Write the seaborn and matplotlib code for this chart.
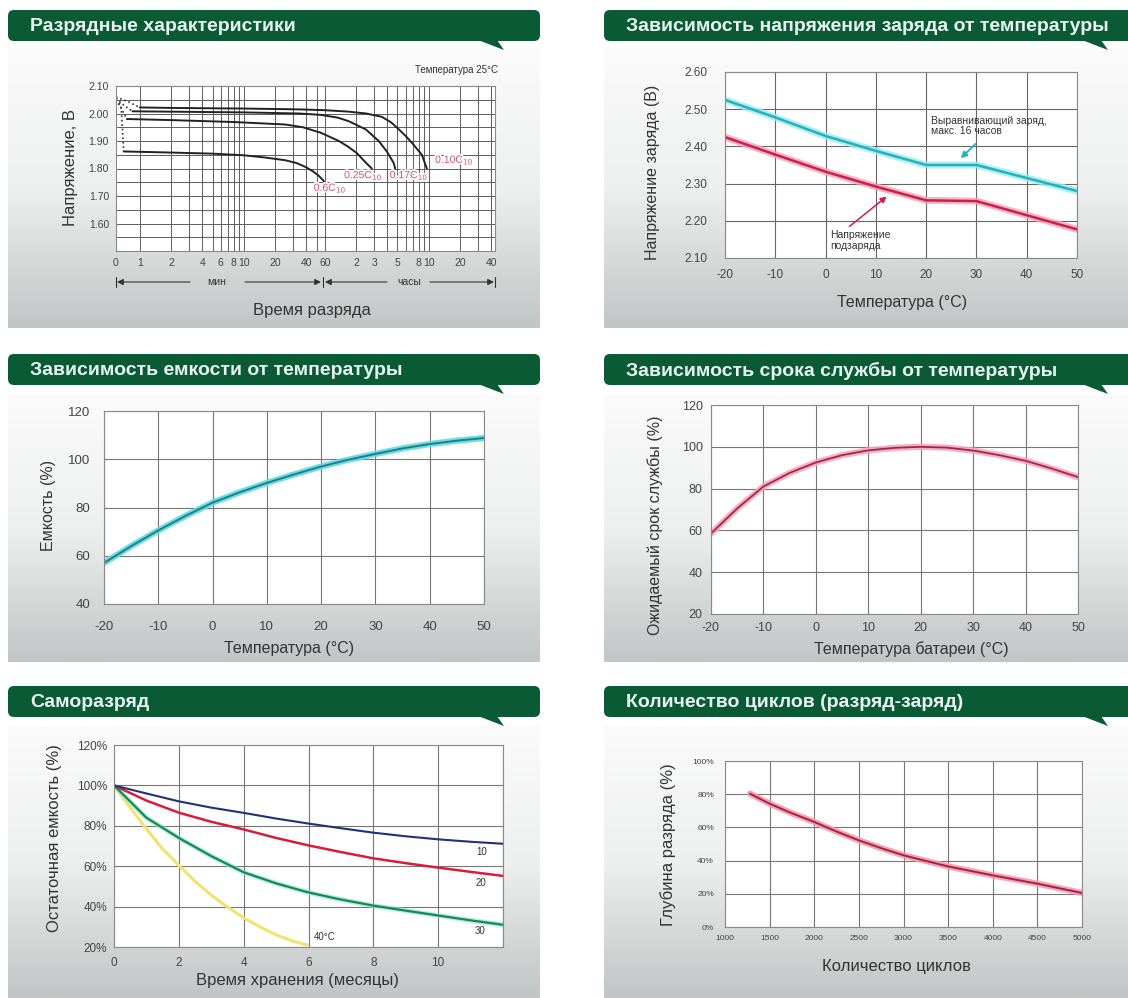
import numpy as np
import matplotlib
matplotlib.use("Agg")
import matplotlib.pyplot as plt
import matplotlib.patheffects as pe
from matplotlib.patches import FancyBboxPatch, Polygon
from matplotlib.colors import LinearSegmentedColormap
from matplotlib.ticker import FixedLocator, NullFormatter
import seaborn as sns

sns.set_style("white")
plt.rcParams['font.family'] = ['Liberation Sans', 'DejaVu Sans']
plt.rcParams['axes.unicode_minus'] = False

W, H = 1128, 998

# ---------------- data ----------------
# 1. discharge curves (time in minutes, voltage V)
c010_dot_t = [0.59, 0.75, 1.0]
c010_dot_v = [2.06, 2.045, 2.022]
c010_t = [1.0, 2.3, 10, 34, 60, 100, 150, 212, 260, 310, 360, 412, 470, 515, 575]
c010_v = [2.022, 2.020, 2.018, 2.015, 2.012, 2.007, 2.0, 1.988, 1.968, 1.942, 1.918, 1.894, 1.868, 1.85, 1.80]

c017_dot_t = [0.59, 0.7, 0.85]
c017_dot_v = [2.055, 2.03, 2.008]
c017_t = [0.85, 3, 10, 34, 55, 80, 102, 149, 198, 237, 276, 285]
c017_v = [2.008, 2.006, 2.004, 2.0, 1.995, 1.985, 1.972, 1.942, 1.90, 1.862, 1.82, 1.80]

c025_dot_t = [0.59, 0.66, 0.75]
c025_dot_v = [2.05, 2.02, 1.98]
c025_t = [0.75, 2, 8, 25, 37, 55, 82, 100, 122, 150, 170]
c025_v = [1.98, 1.976, 1.969, 1.96, 1.95, 1.93, 1.90, 1.88, 1.856, 1.82, 1.80]

c06_dot_t = [0.59, 0.66, 0.7]
c06_dot_v = [2.05, 2.03, 1.862]
c06_t = [0.7, 2, 5, 10, 16, 25, 32, 39, 46, 52, 57, 61]
c06_v = [1.862, 1.858, 1.854, 1.848, 1.84, 1.83, 1.82, 1.806, 1.79, 1.775, 1.76, 1.745]

dis_ticks = [0.59, 1, 2, 4, 6, 8, 10, 20, 40, 60, 120, 180, 300, 480, 600, 1200, 2400]
dis_tick_labels = ['0', '1', '2', '4', '6', '8', '10', '20', '40', '60',
                   '2', '3', '5', '8', '10', '20', '40']
dis_grid = [1, 2, 3, 4, 5, 6, 7, 8, 9, 10, 20, 30, 40, 50, 60,
            120, 180, 240, 300, 360, 420, 480, 540, 600, 1200, 1800, 2400]
dis_volt_grid = [1.50, 1.55, 1.60, 1.65, 1.70, 1.75, 1.80, 1.85, 1.90, 1.95, 2.00, 2.05, 2.10]
dis_volt_ticks = [1.60, 1.70, 1.80, 1.90, 2.00, 2.10]

# 2. charge voltage vs temperature
chg_temp = [-20, -10, 0, 10, 20, 30, 40, 50]
chg_equal = [2.525, 2.478, 2.428, 2.388, 2.350, 2.350, 2.315, 2.280]
chg_float = [2.425, 2.378, 2.332, 2.292, 2.255, 2.253, 2.215, 2.177]

# 3. capacity vs temperature, 4. life vs temperature
temp = [-20, -15, -10, -5, 0, 5, 10, 15, 20, 25, 30, 35, 40, 45, 50]
capacity = [57, 64, 70.5, 76.5, 82, 86.3, 90.2, 93.7, 97, 99.8, 102.2, 104.5, 106.3, 107.7, 108.8]
life = [58.5, 70.5, 81, 87.5, 92.5, 96, 98.3, 99.5, 100, 99.6, 98.2, 96, 93.3, 89.6, 85.5]

# 5. self discharge
months = [0, 1, 2, 3, 4, 5, 6, 7, 8, 9, 10, 11, 12]
sd_10 = [100, 96, 92.1, 89, 86.4, 83.6, 81.1, 78.8, 76.6, 74.8, 73.3, 72.1, 71.1]
sd_20 = [100, 92.5, 86.5, 82, 78.2, 74, 70.3, 67, 63.9, 61.5, 59.3, 57.2, 55.2]
sd_30 = [100, 84, 74, 65, 57, 51.5, 47, 43.5, 40.5, 38, 35.6, 33.2, 31]
months_40 = [0, 0.5, 1, 1.5, 2, 2.5, 3, 3.5, 4, 4.5, 5, 5.5, 5.96]
sd_40 = [100, 89, 78.5, 68.5, 60.5, 52.5, 45.7, 39.8, 34.4, 30, 26, 23, 21]

# 6. cycle life
cycles = [1280, 1500, 1750, 2000, 2250, 2500, 2750, 3000, 3250, 3500, 3750, 4000, 4250, 4500, 4750, 5000]
dod = [80.3, 74.3, 68.5, 63.3, 57.5, 52.2, 47.5, 43.2, 39.8, 36.5, 33.8, 31.1, 28.6, 26.1, 23.3, 20.5]

titles = ['Разрядные характеристики',
          'Зависимость напряжения заряда от температуры',
          'Зависимость емкости от температуры',
          'Зависимость срока службы от температуры',
          'Саморазряд',
          'Количество циклов (разряд-заряд)']

# ---------------- figure ----------------
fig = plt.figure(figsize=(W / 100, H / 100), dpi=100)
fig.patch.set_facecolor('white')

bg = fig.add_axes([0, 0, 1, 1], zorder=-5)
bg.set_xlim(0, W)
bg.set_ylim(H, 0)
bg.axis('off')

grad_cmap = LinearSegmentedColormap.from_list('g', ['#fbfbfb', '#eeefef', '#c2c5c5'])
grad = np.linspace(0, 1, 256).reshape(-1, 1)

GREEN = '#0b5a36'
panels = [  # bg box, header box, tail x, title x
    ((8, 48, 540, 328), (8, 10, 540, 41), 478, 30),
    ((604, 48, 1128, 328), (604, 10, 1145, 41), 1082, 626),
    ((8, 395, 540, 662), (8, 354, 540, 385), 478, 30),
    ((604, 395, 1128, 662), (604, 354, 1145, 385), 1082, 626),
    ((8, 725, 540, 998), (8, 686, 540, 717), 478, 30),
    ((604, 725, 1128, 998), (604, 686, 1145, 717), 1082, 626),
]
for (bx, hb, tx, txt_x), title in zip(panels, titles):
    bg.imshow(grad, extent=(bx[0], bx[2], bx[3], bx[1]), cmap=grad_cmap,
              aspect='auto', origin='upper', zorder=0)
    bg.add_patch(FancyBboxPatch((hb[0], hb[1]), hb[2] - hb[0], hb[3] - hb[1],
                                boxstyle='round,pad=0,rounding_size=6',
                                fc=GREEN, ec='none', zorder=2))
    bg.add_patch(Polygon([(tx, hb[3] - 1), (tx + 19, hb[3] - 1), (tx + 26, hb[3] + 9)],
                         closed=True, fc=GREEN, ec='none', zorder=2))
    bg.text(txt_x, (hb[1] + hb[3]) / 2 + 1, title, color='#e9f6ee', fontsize=14,
            fontweight='bold', va='center', ha='left', zorder=3)
bg.set_xlim(0, W)
bg.set_ylim(H, 0)


def rect(b):
    x0, y0, x1, y1 = b
    return [x0 / W, 1 - y1 / H, (x1 - x0) / W, (y1 - y0) / H]


def style(ax, b, xl, xl_pos, yl, yl_pos, fs=11.5, grid_c='#777777'):
    x0, y0, x1, y1 = b
    ax.set_facecolor('white')
    ax.grid(True, color=grid_c, lw=0.8)
    ax.set_axisbelow(True)
    for s in ax.spines.values():
        s.set_color('#8a8a8a')
        s.set_linewidth(0.8)
    ax.set_xlabel(xl, fontsize=fs, color='#333333')
    ax.set_ylabel(yl, fontsize=fs, color='#333333')
    ax.xaxis.set_label_coords((xl_pos[0] - x0) / (x1 - x0), (y1 - xl_pos[1]) / (y1 - y0))
    ax.yaxis.set_label_coords((yl_pos[0] - x0) / (x1 - x0), (y1 - yl_pos[1]) / (y1 - y0))
    ax.xaxis.label.set_va('center')
    ax.yaxis.label.set_va('center')


def glow(c, w=4.5, a=0.55):
    return [pe.Stroke(linewidth=w, foreground=c, alpha=a), pe.Normal()]


# ---- panel 1: discharge ----
b1 = (116, 86, 495, 251)
ax1 = fig.add_axes(rect(b1))
for t, v in [(c010_dot_t, c010_dot_v), (c017_dot_t, c017_dot_v),
             (c025_dot_t, c025_dot_v), (c06_dot_t, c06_dot_v)]:
    sns.lineplot(x=t, y=v, ax=ax1, color='#333333', lw=1.2, linestyle=':', estimator=None)
for t, v in [(c010_t, c010_v), (c017_t, c017_v), (c025_t, c025_v), (c06_t, c06_v)]:
    sns.lineplot(x=t, y=v, ax=ax1, color='#222222', lw=1.4, estimator=None)
ax1.set_xscale('log')
ax1.set_xlim(0.59, 2600)
ax1.set_ylim(1.50, 2.10)
ax1.set_xticks(dis_ticks)
ax1.set_xticklabels(dis_tick_labels)
ax1.xaxis.set_minor_locator(FixedLocator(dis_grid))
ax1.xaxis.set_minor_formatter(NullFormatter())
ax1.set_yticks(dis_volt_ticks)
ax1.set_yticklabels([f'{v:.2f}' for v in dis_volt_ticks])
ax1.yaxis.set_minor_locator(FixedLocator(dis_volt_grid))
style(ax1, b1, 'Время разряда', (312, 311), 'Напряжение, В', (70, 168), fs=12)
ax1.grid(True, which='both', color='#5c5c5c', lw=0.7)
ax1.tick_params(which='both', length=0)
ax1.tick_params(labelsize=7.5, colors='#444444', pad=5)
lab_c = '#d9506e'
halo = [pe.withStroke(linewidth=2.5, foreground='white')]
for x, y, s in [(690, 1.832, r'0.10C$_{10}$'), (253, 1.776, r'0.17C$_{10}$'),
                (92, 1.776, r'0.25C$_{10}$'), (47, 1.73, r'0.6C$_{10}$')]:
    ax1.text(x, y, s, color=lab_c, fontsize=7.5, va='center', ha='left', path_effects=halo)
bg.text(498, 70, 'Температура 25°C', fontsize=7, color='#333333', ha='right', va='center')
# мин / часы arrows
ay = 282
arr = dict(arrowstyle='-|>', color='#333333', lw=0.8, mutation_scale=9, shrinkA=0, shrinkB=0)
bg.annotate('', xy=(117, ay), xytext=(190, ay), arrowprops=arr)
bg.annotate('', xy=(321, ay), xytext=(245, ay), arrowprops=arr)
bg.annotate('', xy=(325, ay), xytext=(387, ay), arrowprops=arr)
bg.annotate('', xy=(494, ay), xytext=(430, ay), arrowprops=arr)
for xv in (116, 323, 495):
    bg.plot([xv, xv], [ay - 5, ay + 5], color='#333333', lw=0.8)
bg.text(217, ay, 'мин', fontsize=7.5, color='#333333', ha='center', va='center')
bg.text(409, ay, 'часы', fontsize=7.5, color='#333333', ha='center', va='center')

# ---- panel 2: charge voltage ----
b2 = (725, 72, 1077, 258)
ax2 = fig.add_axes(rect(b2))
sns.lineplot(x=chg_temp, y=chg_equal, ax=ax2, color='#1fb3bd', lw=1.8,
             path_effects=glow('#9ee9ef', 5, 0.8), estimator=None)
sns.lineplot(x=chg_temp, y=chg_float, ax=ax2, color='#cc1d4c', lw=1.8,
             path_effects=glow('#f4a3b5', 5, 0.8), estimator=None)
ax2.set_xlim(-20, 50)
ax2.set_ylim(2.10, 2.60)
ax2.set_xticks(chg_temp)
ax2.set_yticks([2.10, 2.20, 2.30, 2.40, 2.50, 2.60])
ax2.set_yticklabels(['2.10', '2.20', '2.30', '2.40', '2.50', '2.60'])
style(ax2, b2, 'Температура (°C)', (902, 303), 'Напряжение заряда (В)', (652, 172), fs=11.5,
      grid_c='#666666')
ax2.tick_params(length=0, labelsize=8.5, colors='#444444')
ax2.tick_params(axis='y', pad=13)
ax2.tick_params(axis='x', pad=8)
ax2.text(21, 2.455, 'Выравнивающий заряд,\nмакс. 16 часов', fontsize=7.5, color='#333333',
         va='center', ha='left', linespacing=1.1)
ax2.annotate('', xy=(26.5, 2.363), xytext=(30.2, 2.412),
             arrowprops=dict(arrowstyle='-|>', color='#1fb3bd', lw=1.3, mutation_scale=9))
ax2.text(1, 2.146, 'Напряжение\nподзаряда', fontsize=7.5, color='#333333',
         va='center', ha='left', linespacing=1.1)
ax2.annotate('', xy=(12.6, 2.27), xytext=(4.3, 2.18),
             arrowprops=dict(arrowstyle='-|>', color='#cc1d4c', lw=1.1, mutation_scale=9))

# ---- panel 3: capacity ----
b3 = (104, 411, 484, 604)
ax3 = fig.add_axes(rect(b3))
sns.lineplot(x=temp, y=capacity, ax=ax3, color='#1d7f86', lw=1.4,
             path_effects=glow('#5fd9e3', 4.5, 0.9), estimator=None)
ax3.set_xlim(-20, 50)
ax3.set_ylim(40, 120)
ax3.set_xticks([-20, -10, 0, 10, 20, 30, 40, 50])
ax3.set_yticks([40, 60, 80, 100, 120])
style(ax3, b3, 'Температура (°C)', (289, 649), 'Емкость (%)', (48, 505))
ax3.tick_params(length=0, labelsize=9.5, colors='#444444')
ax3.tick_params(axis='y', pad=10)
ax3.tick_params(axis='x', pad=12)

# ---- panel 4: service life ----
b4 = (711, 405, 1078, 614)
ax4 = fig.add_axes(rect(b4))
sns.lineplot(x=temp, y=life, ax=ax4, color='#a3264a', lw=1.3,
             path_effects=glow('#f5a7ba', 4.5, 0.9), estimator=None)
ax4.set_xlim(-20, 50)
ax4.set_ylim(20, 120)
ax4.set_xticks([-20, -10, 0, 10, 20, 30, 40, 50])
ax4.set_yticks([20, 40, 60, 80, 100, 120])
style(ax4, b4, 'Температура батареи (°C)', (911, 649), 'Ожидаемый срок службы (%)', (655, 525))
ax4.tick_params(length=0, labelsize=9, colors='#444444')
ax4.tick_params(axis='y', pad=6)
ax4.tick_params(axis='x', pad=6)

# ---- panel 5: self discharge ----
b5 = (114, 745, 503, 947)
ax5 = fig.add_axes(rect(b5))
sns.lineplot(x=months_40, y=sd_40, ax=ax5, color='#f1e46c', lw=2.2, estimator=None)
sns.lineplot(x=months, y=sd_30, ax=ax5, color='#178a4a', lw=1.6,
             path_effects=glow('#8fe6d8', 3.5, 0.7), estimator=None)
sns.lineplot(x=months, y=sd_20, ax=ax5, color='#d91c3c', lw=1.8, estimator=None)
sns.lineplot(x=months, y=sd_10, ax=ax5, color='#22307a', lw=1.5, estimator=None)
ax5.set_xlim(0, 12)
ax5.set_ylim(20, 120)
ax5.set_xticks([0, 2, 4, 6, 8, 10, 12])
ax5.set_xticklabels(['0', '2', '4', '6', '8', '10', ''])
ax5.set_yticks([20, 40, 60, 80, 100, 120])
ax5.set_yticklabels(['20%', '40%', '60%', '80%', '100%', '120%'])
style(ax5, b5, 'Время хранения (месяцы)', (298, 981), 'Остаточная емкость (%)', (55, 838), fs=12)
ax5.tick_params(length=0, labelsize=8.5, colors='#444444')
ax5.tick_params(axis='y', pad=5)
ax5.tick_params(axis='x', pad=7)
for x, y, s in [(11.33, 67, '10'), (11.33, 51.7, '20'), (11.3, 27.9, '30'), (6.5, 25, '40°C')]:
    ax5.text(x, y, s, fontsize=7, color='#333333', ha='center', va='center')

# ---- panel 6: cycles ----
b6 = (725, 761, 1082, 927)
ax6 = fig.add_axes(rect(b6))
sns.lineplot(x=cycles, y=dod, ax=ax6, color='#a8203e', lw=1.4,
             path_effects=glow('#f39ab0', 4.5, 0.9), estimator=None)
ax6.set_xlim(1000, 5000)
ax6.set_ylim(0, 100)
ax6.set_xticks([1000, 1500, 2000, 2500, 3000, 3500, 4000, 4500, 5000])
ax6.set_yticks([0, 20, 40, 60, 80, 100])
ax6.set_yticklabels(['0%', '20%', '40%', '60%', '80%', '100%'])
style(ax6, b6, 'Количество циклов', (896, 967), 'Глубина разряда (%)', (668, 845), fs=12)
ax6.tick_params(length=0, labelsize=6, colors='#444444')
ax6.tick_params(axis='y', pad=8)
ax6.tick_params(axis='x', pad=6)

fig.savefig('out.png', dpi=100)
